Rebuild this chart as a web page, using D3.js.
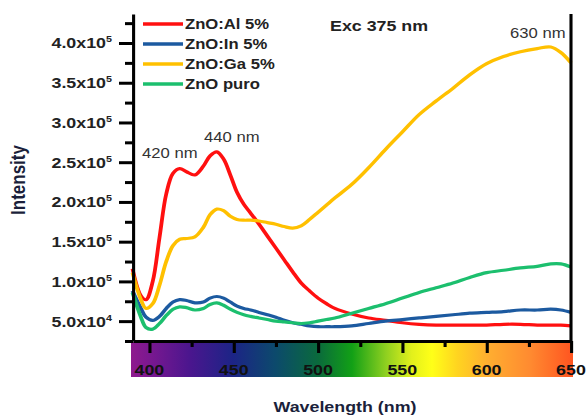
<html>
<head>
<meta charset="utf-8">
<script src="https://d3js.org/d3.v7.min.js"></script>
<style>
body { margin: 0; background: #fff; }
text { font-family: "Liberation Sans", Arial, sans-serif; }
</style>
</head>
<body>
<svg id="chart" width="588" height="418"></svg>
<script>

// wavelengths (nm) shared by all four spectra
var wl = [390, 395, 398, 402, 406, 410, 414, 418, 422, 427, 432, 436, 440, 444, 448, 452, 456, 460, 465, 470,
          475, 480, 485, 490, 495, 500, 505, 510, 520, 530, 540, 550, 560, 570, 580, 590, 600, 610, 620, 630,
          638, 644, 650]

var al = [116e3, 82e3, 77e3, 100e3, 155e3, 210e3, 236e3, 242e3, 238e3, 234e3, 245e3, 258e3, 263e3, 254e3, 234e3, 212e3, 197e3, 186e3, 172e3, 157e3,
          142e3, 127e3, 112e3, 98e3, 88e3, 79e3, 72e3, 66e3, 59e3, 54e3, 51e3, 48e3, 46e3, 45e3, 45e3, 45e3, 45e3, 46e3, 46e3, 45e3,
          45e3, 45e3, 44e3]

var inn = [88e3, 66e3, 55e3, 51e3, 56e3, 66e3, 74e3, 77e3, 76e3, 73e3, 74e3, 79e3, 81e3, 79e3, 74e3, 69e3, 66e3, 64e3, 61e3, 58e3,
           55e3, 51e3, 48e3, 46e3, 44e3, 43e3, 43e3, 43e3, 44e3, 47e3, 50e3, 52e3, 54e3, 56e3, 58e3, 60e3, 61e3, 62e3, 64e3, 64e3,
           65e3, 64e3, 61e3]

var ga = [111e3, 77e3, 66e3, 72e3, 95e3, 125e3, 145e3, 153e3, 154e3, 156e3, 168e3, 184e3, 191e3, 189e3, 182e3, 178e3, 177e3, 177e3, 176e3, 174e3,
          172e3, 169e3, 167e3, 170e3, 178e3, 187e3, 196e3, 205e3, 222e3, 243e3, 266e3, 288e3, 310e3, 327e3, 343e3, 360e3, 374e3, 383e3, 389e3, 393e3,
          395e3, 388e3, 375e3]

var puro = [86e3, 55e3, 42e3, 40e3, 47e3, 57e3, 65e3, 68e3, 67e3, 64e3, 66e3, 71e3, 73e3, 70e3, 65e3, 61e3, 58e3, 56e3, 54e3, 52e3,
            50e3, 49e3, 48e3, 47e3, 48e3, 50e3, 52e3, 54e3, 60e3, 66e3, 72e3, 79e3, 86e3, 92e3, 98e3, 105e3, 111e3, 114e3, 117e3, 119e3,
            122e3, 122e3, 118e3]

var names  = ["ZnO:Al 5%", "ZnO:In 5%", "ZnO:Ga 5%", "ZnO puro"]
var colors = ["#ff1010", "#1c5aa0", "#ffc000", "#1cbf6e"]
var series = [al, inn, ga, puro]

var yMajor = [5e4, 1e5, 1.5e5, 2e5, 2.5e5, 3e5, 3.5e5, 4e5]
var yMinor = [2.5e4, 7.5e4, 1.25e5, 1.75e5, 2.25e5, 2.75e5, 3.25e5, 3.75e5, 4.25e5]
var xMajor = [400, 450, 500, 550, 600, 650]
var xMinor = [425, 475, 525, 575, 625]

// visible spectrum strip under the axis
var bandWl     = [390, 400, 425, 450, 475, 500, 520, 540, 555, 567, 582, 600, 625, 650]
var bandColors = ["#8e1a8e", "#7c1890", "#4a168e", "#1c2486", "#0c4a6c", "#0a6a3c", "#12a016", "#8fd020", "#e2f01c", "#ffff18", "#ffd420", "#ffae30", "#ff8a30", "#ff5420"]

var peaks = [{t: "420 nm", x: 142, y: 158}, {t: "440 nm", x: 204, y: 142}, {t: "630 nm", x: 510, y: 38}]

// the source picture is stretched sideways, so draw in a narrower box and stretch it
var SX = 1.19
function px(v) { return v / SX }

var svg = d3.select("#chart")
	.attr("viewBox", "0 0 " + px(588) + " 418")
	.attr("preserveAspectRatio", "none")

var x = d3.scaleLinear().domain([390.3, 650]).range([px(133), px(571)])
var y = d3.scaleLinear().domain([25000, 436500]).range([341, 14])

var grad = svg.append("defs").append("linearGradient").attr("id", "spec")
grad.selectAll("stop")
	.data(bandWl)
	.enter().append("stop")
	.attr("offset", d => (d - 390) / 260)
	.attr("stop-color", (d, i) => bandColors[i])

svg.append("rect")
	.attr("x", px(131)).attr("y", 342)
	.attr("width", px(573) - px(131)).attr("height", 35)
	.attr("fill", "url(#spec)")

// curves
var line = d3.line()
	.x((d, i) => x(wl[i]))
	.y(d => y(d))
	.curve(d3.curveCatmullRom)

svg.append("g").selectAll("path")
	.data(series)
	.enter().append("path")
	.attr("d", line)
	.attr("fill", "none")
	.attr("stroke", (d, i) => colors[i])
	.attr("stroke-width", 3.2)
	.attr("stroke-linejoin", "round")

// y axis
var yAxis = svg.append("g")
	.attr("transform", "translate(" + x(390.3) + ",0)")
	.call(d3.axisLeft(y).tickValues(yMajor).tickSize(px(14)).tickSizeOuter(0).tickFormat(""))
svg.append("g")
	.attr("transform", "translate(" + x(390.3) + ",0)")
	.call(d3.axisLeft(y).tickValues(yMinor).tickSize(px(8)).tickFormat(""))
	.select(".domain").remove()

svg.selectAll("g .tick line").attr("stroke", "#000").attr("stroke-width", 3)
yAxis.select(".domain").attr("stroke", "#000").attr("stroke-width", 2.6)

var yLab = svg.append("g").selectAll("text")
	.data(yMajor)
	.enter().append("text")
	.attr("x", px(112))
	.attr("y", d => y(d) + 5.5)
	.attr("text-anchor", "end")
	.attr("font-size", 15)
	.attr("font-weight", "bold")
	.attr("fill", "#222")
yLab.append("tspan").text(d => d >= 1e5 ? (d / 1e5).toFixed(1) + "x10" : (d / 1e4).toFixed(1) + "x10")
yLab.append("tspan").attr("font-size", 9).attr("dy", -6).text(d => d >= 1e5 ? "5" : "4")

// x axis
var xAxis = svg.append("g")
	.attr("transform", "translate(0,341)")
	.call(d3.axisBottom(x).tickValues(xMajor).tickSize(12).tickSizeOuter(0).tickFormat(""))
svg.append("g")
	.attr("transform", "translate(0,341)")
	.call(d3.axisBottom(x).tickValues(xMinor).tickSize(6).tickFormat(""))
	.select(".domain").remove()
svg.selectAll("g .tick line").attr("stroke", "#000")
svg.selectAll("g .tick line").filter(function() { return +d3.select(this).attr("x2") == 0 }).attr("stroke-width", 2.6)
xAxis.select(".domain").attr("stroke", "#000").attr("stroke-width", 3)

// right frame line
svg.append("line")
	.attr("x1", x(650)).attr("x2", x(650))
	.attr("y1", 14).attr("y2", 341)
	.attr("stroke", "#000").attr("stroke-width", 2.6)

svg.append("g").selectAll("text")
	.data(xMajor)
	.enter().append("text")
	.attr("x", d => x(d))
	.attr("y", 375)
	.attr("text-anchor", "middle")
	.attr("font-size", 15)
	.attr("font-weight", "bold")
	.attr("fill", "#111")
	.text(d => d)

// titles
svg.append("text")
	.attr("x", px(345)).attr("y", 412)
	.attr("text-anchor", "middle")
	.attr("font-size", 15).attr("font-weight", "bold")
	.attr("fill", "#1b1f3b")
	.text("Wavelength (nm)")

svg.append("text")
	.attr("transform", "translate(" + px(25) + ",180) rotate(-90)")
	.attr("text-anchor", "middle")
	.attr("font-size", 17).attr("font-weight", "bold")
	.attr("fill", "#1b1f3b")
	.text("Intensity")

svg.append("text")
	.attr("x", px(330)).attr("y", 31)
	.attr("font-size", 15).attr("font-weight", "bold")
	.attr("fill", "#222")
	.text("Exc 375 nm")

svg.append("g").selectAll("text")
	.data(peaks)
	.enter().append("text")
	.attr("x", d => px(d.x)).attr("y", d => d.y)
	.attr("font-size", 14)
	.attr("fill", "#333")
	.text(d => d.t)

// legend
var legend = svg.append("g").selectAll("g")
	.data(names)
	.enter().append("g")
	.attr("transform", (d, i) => "translate(0," + (24 + i * 20) + ")")

legend.append("line")
	.attr("x1", px(143)).attr("x2", px(183))
	.attr("stroke", (d, i) => colors[i])
	.attr("stroke-width", 3.5)

legend.append("text")
	.attr("x", px(185)).attr("y", 5)
	.attr("font-size", 14).attr("font-weight", "bold")
	.attr("fill", "#222")
	.text(d => d)

</script>
</body>
</html>
